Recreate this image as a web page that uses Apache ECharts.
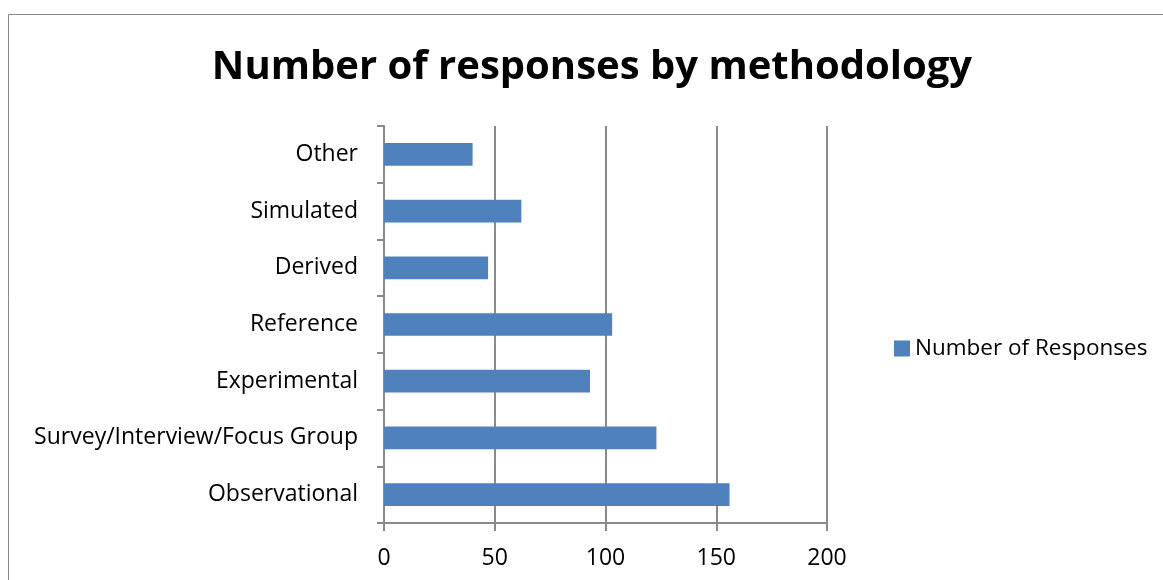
<!DOCTYPE html>
<html>
<head>
<meta charset="utf-8">
<script src="https://cdn.jsdelivr.net/npm/echarts@6/dist/echarts.min.js"></script>
<style>
  html, body { margin: 0; padding: 0; background: #ffffff; }
  #chart { width: 1163px; height: 580px; }
</style>
</head>
<body>
<div id="chart"></div>
<script>
// Methodology categories, listed top to bottom
const categories = ['Other', 'Simulated', 'Derived', 'Reference', 'Experimental', 'Survey/Interview/Focus Group', 'Observational'];
// Number of responses per methodology
const responses = [40, 62, 47, 103, 93, 123, 156];
const seriesName = 'Number of Responses';
const xTicks = [0, 50, 100, 150, 200];

const FONT = '"Open Sans", sans-serif';
const AXIS_GRAY = '#8a8a8a';
const BAR_BLUE = '#4F81BD';

const chart = echarts.init(document.getElementById('chart'), null, { renderer: 'canvas' });

chart.setOption({
  backgroundColor: '#ffffff',
  animation: false,
  title: {
    text: 'Number of responses by methodology',
    left: 587,
    textAlign: 'center',
    top: 43,
    textStyle: { fontFamily: FONT, fontWeight: 'bold', fontSize: 40, color: '#000000' }
  },
  graphic: [{
    type: 'rect',
    shape: { x: 8.5, y: 14.5, width: 1200, height: 600 },
    style: { fill: 'none', stroke: '#868686', lineWidth: 1 },
    silent: true,
    z: -1
  }],
  legend: {
    left: 889,
    top: 332,
    itemWidth: 16,
    itemHeight: 16,
    icon: 'rect',
    textStyle: { fontFamily: FONT, fontSize: 22.5, color: '#000000' },
    data: [seriesName]
  },
  grid: { left: 384, right: 336, top: 126, bottom: 57, containLabel: false },
  xAxis: {
    type: 'value',
    min: xTicks[0],
    max: xTicks[xTicks.length - 1],
    interval: xTicks[1] - xTicks[0],
    axisLine: { show: true, lineStyle: { color: AXIS_GRAY, width: 2 } },
    axisTick: { show: true, length: 8, lineStyle: { color: AXIS_GRAY, width: 2 } },
    splitLine: { show: true, lineStyle: { color: AXIS_GRAY, width: 2 } },
    axisLabel: { fontFamily: FONT, fontSize: 23, color: '#000000', margin: 24 }
  },
  yAxis: {
    type: 'category',
    data: categories,
    inverse: true,
    axisLine: { show: true, lineStyle: { color: AXIS_GRAY, width: 2 } },
    axisTick: { show: true, length: 7, alignWithLabel: false, lineStyle: { color: AXIS_GRAY, width: 2 } },
    axisLabel: { fontFamily: FONT, fontSize: 23, color: '#000000', margin: 26 }
  },
  series: [{
    name: seriesName,
    type: 'bar',
    data: responses,
    barWidth: '40%',
    itemStyle: { color: BAR_BLUE }
  }]
});
</script>
</body>
</html>
